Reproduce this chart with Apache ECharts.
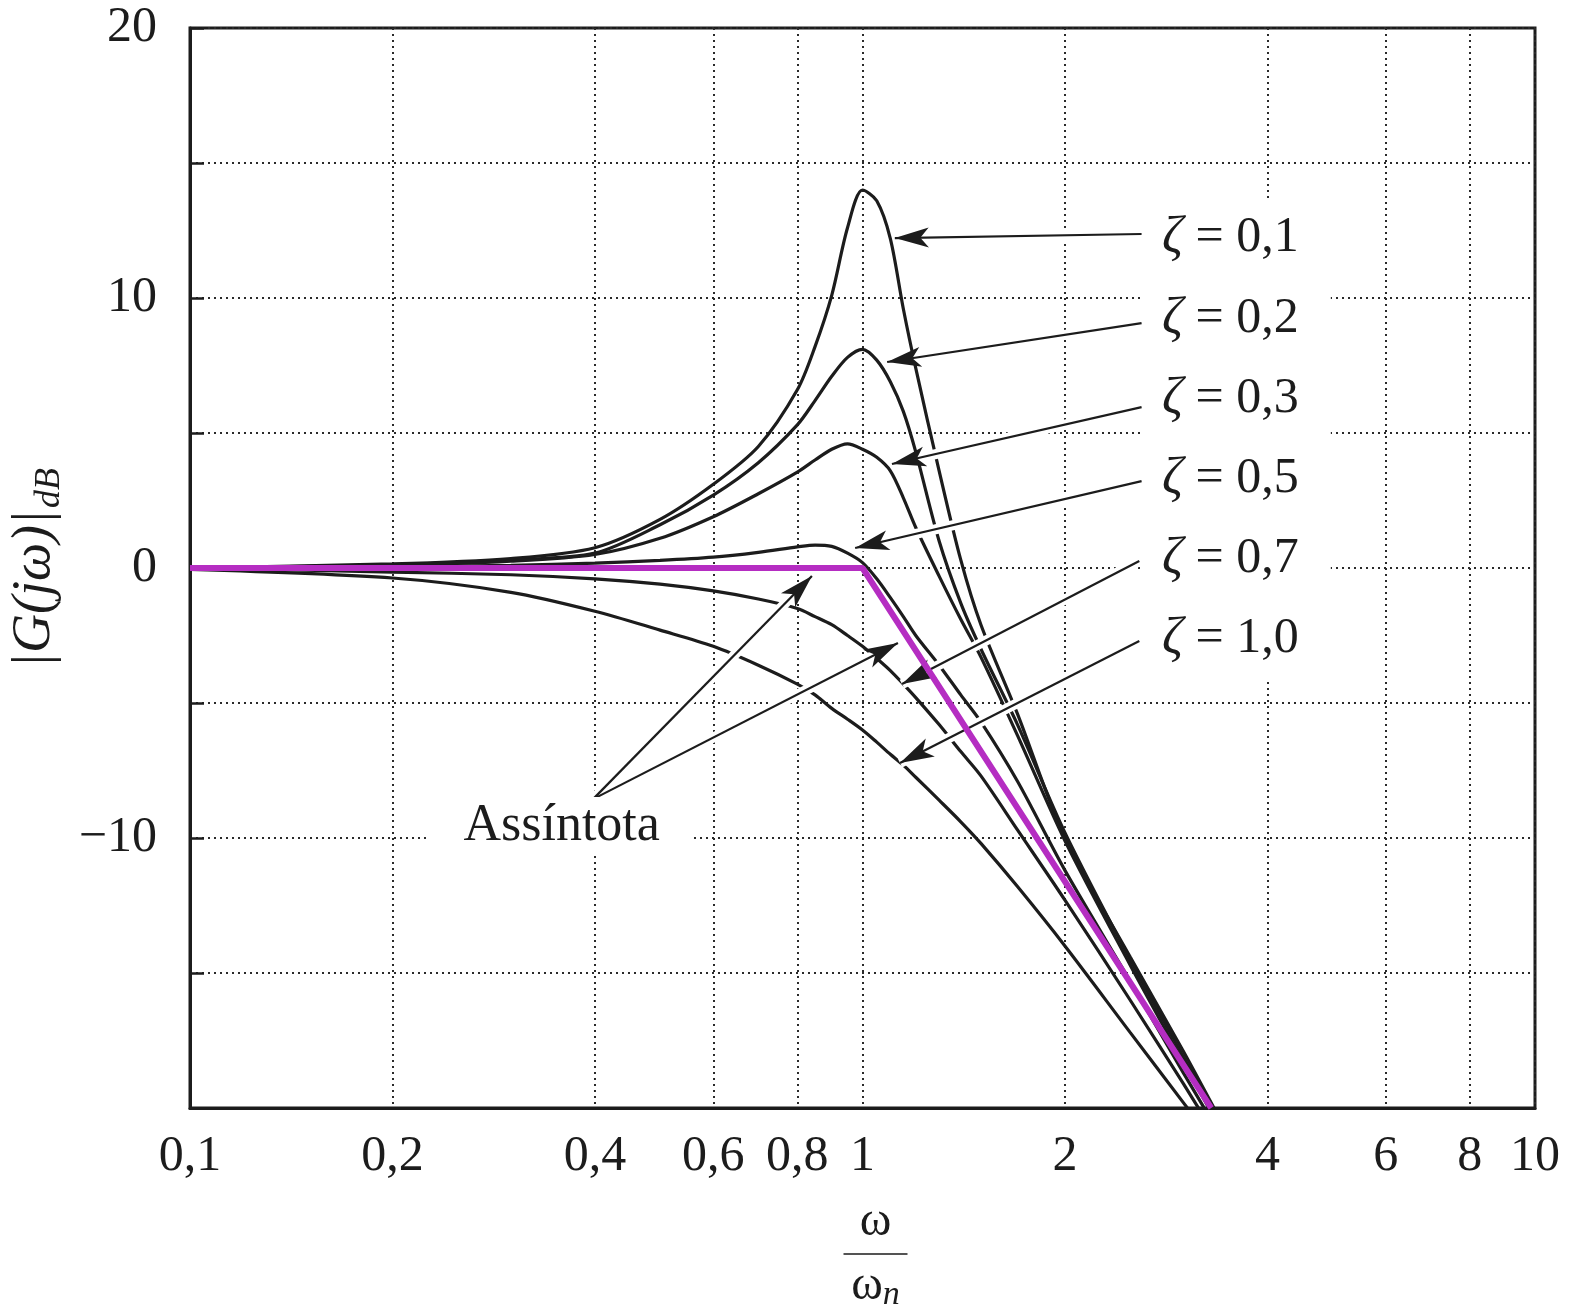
<!DOCTYPE html>
<html>
<head>
<meta charset="utf-8">
<title>|G(jw)| dB</title>
<script src="https://cdn.jsdelivr.net/npm/echarts@6.0.0/dist/echarts.min.js"></script>
<style>
  html, body { margin: 0; padding: 0; background: #fff; }
  #main { width: 1573px; height: 1310px; }
</style>
</head>
<body>
<div id="main"></div>
<script>
const omega = [0.1, 0.2, 0.3, 0.4, 0.5, 0.6, 0.7, 0.8, 0.85, 0.9, 0.95, 1.0, 1.05, 1.1, 1.15, 1.2, 1.3, 1.4, 1.5, 1.7, 2.0, 2.5, 3.0, 3.5];

// magnitude in dB, one array per damping ratio
const zeta01 = [0.0, 0.15, 0.35, 0.75, 1.8, 3.1, 4.5, 6.6, 8.2, 10.1, 12.6, 14.0, 13.6, 12.2, 9.6, 7.4, 3.6, 0.3, -2.1, -5.4, -10.0, -14.4, -17.9, -21.0];
const zeta02 = [0.0, 0.12, 0.3, 0.55, 1.6, 2.7, 3.9, 5.3, 6.2, 7.1, 7.8, 8.1, 7.7, 6.9, 5.8, 4.3, 1.0, -1.3, -3.0, -5.8, -9.8, -14.5, -18.1, -21.1];
const zeta03 = [0.0, 0.1, 0.25, 0.5, 1.1, 1.9, 2.75, 3.55, 4.0, 4.4, 4.6, 4.4, 4.1, 3.6, 2.6, 1.5, -0.3, -1.9, -3.3, -6.2, -10.1, -14.7, -18.3, -21.3];
const zeta05 = [0.0, 0.05, 0.1, 0.18, 0.28, 0.4, 0.58, 0.78, 0.85, 0.8, 0.55, 0.2, -0.4, -1.1, -1.8, -2.5, -3.6, -4.7, -5.7, -7.9, -11.2, -15.3, -18.7, -21.5];
const zeta07 = [0.0, -0.15, -0.25, -0.4, -0.6, -0.85, -1.15, -1.5, -1.8, -2.1, -2.5, -2.9, -3.35, -3.8, -4.3, -4.8, -5.8, -6.8, -7.7, -9.7, -12.3, -16.0, -19.1, -21.8];
const zeta10 = [-0.05, -0.37, -0.9, -1.6, -2.3, -2.9, -3.6, -4.3, -4.7, -5.2, -5.6, -6.0, -6.45, -6.9, -7.3, -7.75, -8.6, -9.4, -10.2, -11.8, -14.0, -17.2, -19.8, -22.0];

// straight-line asymptote
const asymptoteOmega = [0.1, 1, 3.3];
const asymptoteDb = [0, 0, -20];

// axes
const xTicks = [0.1, 0.2, 0.4, 0.6, 0.8, 1, 2, 4, 6, 8, 10];
const yLabelValues = [20, 10, 0, -10];

// annotations (data coordinates)
const zetaTexts = ['0,1', '0,2', '0,3', '0,5', '0,7', '1,0'];
const zetaLabelAt = [[2.6, 12.22], [2.6, 9.22], [2.6, 6.26], [2.6, 3.3], [2.6, 0.33], [2.6, -2.63]];
const zetaArrowFrom = [[2.6, 12.37], [2.6, 9.07], [2.6, 5.96], [2.6, 3.22], [2.58, 0.26], [2.58, -2.7]];
const zetaArrowTo = [[1.117, 12.22], [1.088, 7.63], [1.106, 3.85], [0.975, 0.74], [1.145, -4.3], [1.137, -7.22]];
const asymptoteText = 'Assíntota';
const asymptoteTextAt = [0.357, -9.56];
const asymptoteArrowFrom = [0.3975, -8.56];
const asymptoteArrowTo = [[0.841, -0.3], [1.129, -2.78]];

const serif = '"Liberation Serif", "DejaVu Serif", serif';
const ink = '#1c1c1c';
const magenta = '#b52dc2';

const curves = [zeta01, zeta02, zeta03, zeta05, zeta07, zeta10];

const chart = echarts.init(document.getElementById('main'));

const curveSeries = curves.map((values, i) => {
	return {
		name: 'ζ = ' + zetaTexts[i],
		type: 'line',
		data: omega.map((w, k) => [w, values[k]]),
		showSymbol: false,
		smooth: 0.3,
		clip: true,
		silent: true,
		z: 2,
		lineStyle: { color: ink, width: 3.2 }
	};
});

const arrowPairs = zetaArrowFrom
	.map((from, i) => [{ coord: from }, { coord: zetaArrowTo[i] }])
	.concat(asymptoteArrowTo.map((to) => [{ coord: asymptoteArrowFrom }, { coord: to }]));

const textLabel = {
	show: true,
	color: ink,
	fontFamily: serif,
	fontSize: 50,
	lineHeight: 50,
	backgroundColor: '#fff'
};

const labelPoints = zetaTexts
	.map((t, i) => {
		return {
			coord: zetaLabelAt[i],
			label: {
				...textLabel,
				position: 'right',
				distance: 0,
				padding: [15, 32, 15, 20],
				formatter: '{z|ζ} = ' + t,
				rich: {
					z: { fontFamily: serif, fontStyle: 'italic', fontSize: 52, lineHeight: 50, color: ink }
				}
			}
		};
	})
	.concat([
		{
			coord: asymptoteTextAt,
			label: {
				...textLabel,
				fontSize: 52,
				position: 'inside',
				padding: [4, 34, 4, 34],
				formatter: asymptoteText
			}
		}
	]);

const option = {
	animation: false,
	backgroundColor: '#fff',
	grid: {
		left: 190,
		right: 38,
		top: 28,
		bottom: 202,
		show: true,
		borderColor: ink,
		borderWidth: 3,
		containLabel: false,
		outerBoundsMode: 'none'
	},
	xAxis: {
		type: 'log',
		logBase: 10,
		min: 0.1,
		max: 10,
		axisLine: { show: true, onZero: false, lineStyle: { color: ink, width: 3 } },
		axisTick: { show: false, customValues: xTicks },
		minorTick: { show: false },
		axisLabel: {
			customValues: xTicks,
			hideOverlap: false,
			margin: 24,
			color: ink,
			fontFamily: serif,
			fontSize: 50,
			formatter: (v) => String(v).replace('.', ',')
		},
		splitLine: { show: true, lineStyle: { color: '#2a2a2a', width: 2, type: [2, 4] } },
		name: '{t|ω}\n{l|}\n{t|ω}{s|n}',
		nameLocation: 'middle',
		nameGap: 92,
		nameTextStyle: {
			padding: [0, 0, 0, 26],
			rich: {
				t: { fontFamily: serif, fontSize: 48, lineHeight: 44, color: ink },
				s: { fontFamily: serif, fontStyle: 'italic', fontSize: 34, lineHeight: 44, padding: [18, 0, 0, 0], color: ink },
				l: { width: 64, height: 0, lineHeight: 20, borderColor: ink, borderWidth: 1.5 }
			}
		}
	},
	yAxis: {
		type: 'value',
		min: -20,
		max: 20,
		interval: 5,
		axisLine: { show: true, onZero: false, lineStyle: { color: ink, width: 3 } },
		axisTick: { show: true, inside: true, length: 14, lineStyle: { color: ink, width: 2.5 } },
		axisLabel: {
			margin: 33,
			color: ink,
			fontFamily: serif,
			fontSize: 50,
			formatter: (v) => (yLabelValues.includes(v) ? String(v).replace('-', '\u2212') : '')
		},
		splitLine: { show: true, lineStyle: { color: '#2a2a2a', width: 2, type: [2, 4] } },
		name: '{a||G(jω)|}{b|dB}',
		nameLocation: 'middle',
		nameRotate: 90,
		nameGap: 115,
		nameTextStyle: {
			rich: {
				a: { fontFamily: serif, fontStyle: 'italic', fontSize: 54, color: ink },
				b: { fontFamily: serif, fontStyle: 'italic', fontSize: 36, padding: [30, 0, 0, 2], color: ink }
			}
		}
	},
	series: [
		...curveSeries,
		// white gaps where the arrows cross the curves, plus the text boxes
		{
			type: 'line',
			data: [],
			z: 3,
			silent: true,
			markLine: {
				silent: true,
				symbol: ['none', 'none'],
				label: { show: false },
				lineStyle: { color: '#fff', width: 10, type: 'solid' },
				data: arrowPairs
			},
			markPoint: {
				silent: true,
				symbol: 'rect',
				symbolSize: 1,
				itemStyle: { color: 'rgba(0,0,0,0)' },
				data: labelPoints
			}
		},
		// the arrows themselves
		{
			type: 'line',
			data: [],
			z: 4,
			silent: true,
			markLine: {
				silent: true,
				symbol: ['none', 'arrow'],
				symbolSize: [15, 34],
				label: { show: false },
				lineStyle: { color: ink, width: 2.2, type: 'solid' },
				data: arrowPairs
			}
		},
		{
			name: 'Assíntota',
			type: 'line',
			data: asymptoteOmega.map((w, k) => [w, asymptoteDb[k]]),
			showSymbol: false,
			clip: true,
			silent: true,
			z: 5,
			lineStyle: { color: magenta, width: 6 }
		}
	]
};

chart.setOption(option);

window.addEventListener('resize', function () {
	chart.resize();
});
</script>
</body>
</html>
